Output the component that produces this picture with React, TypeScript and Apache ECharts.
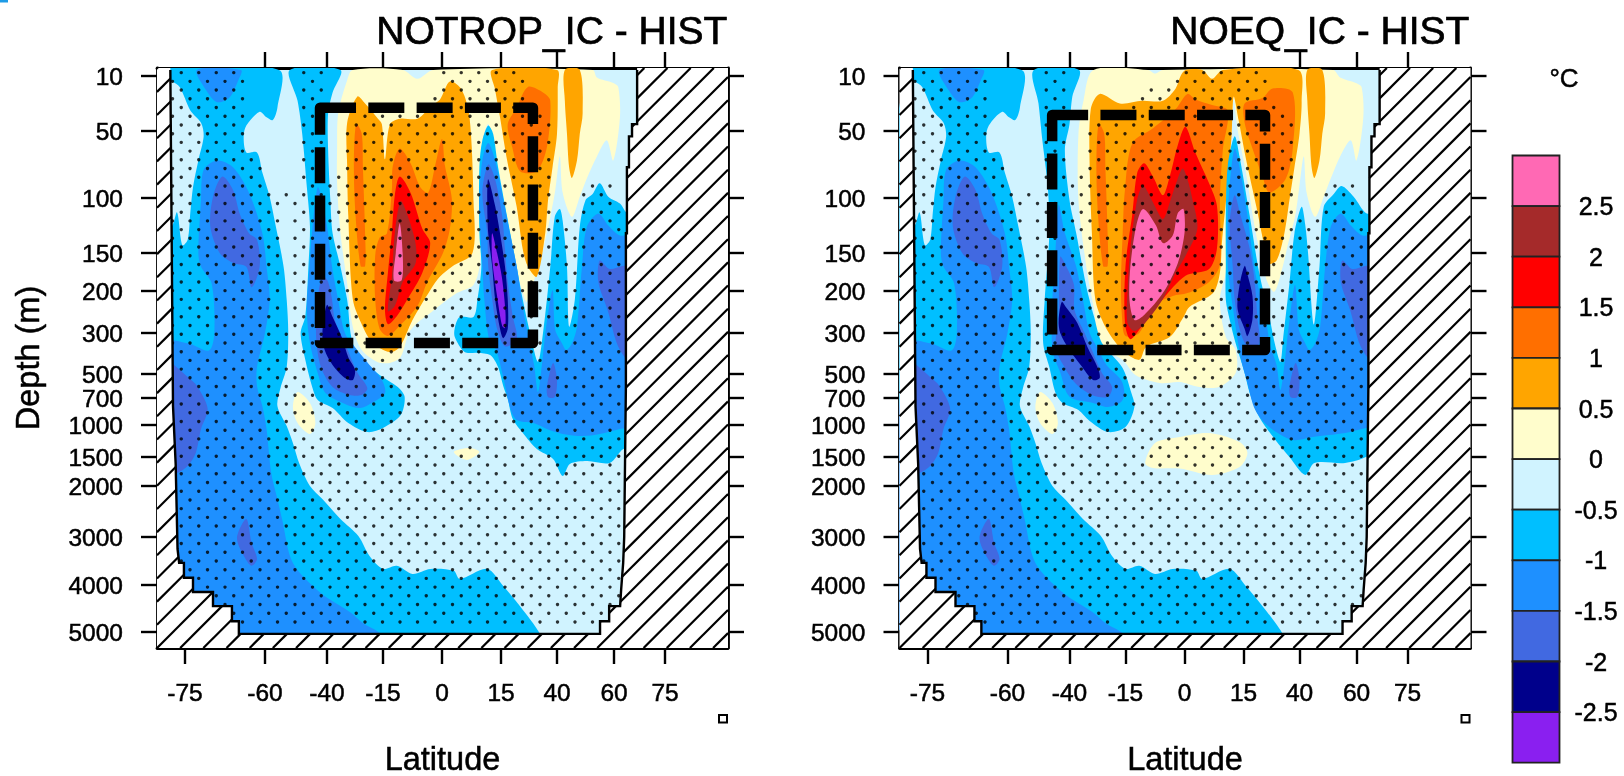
import React, { useEffect, useRef } from "react";
import * as echarts from "echarts";

type P = number[];
const FONT = "'Liberation Sans', Arial, sans-serif";

// Axis ticks and the warped positions the source plot uses
const LAT_TICKS = [-75, -60, -40, -15, 0, 15, 40, 60, 75];
const LAT_SCALE = [[-80.25, 0], [-75, 28], [-60, 108], [-40, 170], [-15, 226], [0, 285], [15, 344], [40, 400], [60, 457], [75, 508], [93.5, 571]];
const DEPTH_TICKS = [10, 50, 100, 150, 200, 300, 500, 700, 1000, 1500, 2000, 3000, 4000, 5000];
const DEPTH_SCALE = [[0, 0], [5, 2], [10, 8], [50, 63], [100, 130], [150, 185], [200, 223], [300, 265], [500, 306], [700, 330], [1000, 357], [1500, 389], [2000, 418], [3000, 469], [4000, 517], [5000, 564], [5340, 580]];

const LEVEL_LABELS = ["2.5", "2", "1.5", "1", "0.5", "0", "-0.5", "-1", "-1.5", "-2", "-2.5"];
const LEVEL_COLORS = ["#FF69B4", "#A52A2A", "#FF0000", "#FF6F00", "#FFA500", "#FFFDCC", "#D0F3FF", "#00BFFF", "#1E90FF", "#4169E1", "#00008B", "#8A1FF0"];
const [PINK, BROWN, RED, DORANGE, ORANGE, LEMON, LCYAN, DSB, DODGER, ROYAL, DARK, PURPLE] = LEVEL_COLORS;

// Ocean outline, lat / depth
const OCEAN: P[] = [[-77.75, 5], [-77.25, 789], [-76.75, 1620], [-76.4, 3250], [-76.1, 3540], [-75.2, 3540], [-75.2, 3850], [-73.5, 3850], [-73.5, 4150], [-69.75, 4150], [-69.75, 4450], [-66.2, 4450], [-66.2, 4770], [-64.9, 4770], [-64.9, 5040], [55.1, 5040], [55.1, 4770], [58.3, 4770], [58.3, 4450], [61.8, 4450], [62.1, 4100], [62.7, 3540], [63, 3000], [63.5, 600], [63.5, 132], [63.8, 132], [63.8, 77], [64.4, 77], [64.4, 54], [65.3, 54], [65.3, 45], [66.8, 45], [66.8, 5]];

// Contours shared by both panels (south and deep north)
const DSB_SOUTH: P[] = [[-79, 5], [-55.5, 5], [-56, 33], [-57.5, 42], [-59.5, 40], [-61, 36], [-63.5, 46], [-64, 54], [-63.5, 66], [-61.5, 66], [-60.5, 81], [-58.5, 99], [-56.5, 126], [-54, 168], [-53, 221], [-52.5, 300], [-53, 466], [-55, 617], [-56, 789], [-53, 1016], [-51, 1281], [-49, 1603], [-45.5, 2000], [-41.5, 2255], [-34, 2647], [-26, 2980], [-21, 3396], [-15, 3665], [-11.5, 3600], [-7.5, 3770], [-3, 3665], [3, 3705], [4.5, 3875], [11.5, 3665], [16, 4020], [23.5, 4450], [32.5, 5040], [32.5, 5200], [-79, 5200]];
const LC_PATCH: P[] = [[-79, 13], [-77.5, 14], [-76, 18], [-74, 35], [-72, 44], [-71.5, 54], [-72.5, 72], [-73.5, 92], [-74, 113], [-74.5, 138], [-75.5, 143], [-76.5, 113], [-77.5, 126], [-79, 126]];
const DODGER_SOUTH: P[] = [[-79, 350], [-74.5, 350], [-70.5, 385], [-69.5, 300], [-70, 190], [-72, 168], [-72.5, 150], [-72, 102], [-71.5, 79], [-69, 72], [-66, 77], [-63, 96], [-60.5, 132], [-59.5, 168], [-58.5, 221], [-60, 300], [-61.5, 466], [-61.5, 600], [-60.5, 789], [-59.5, 1062], [-58, 1770], [-56, 2255], [-54.5, 2647], [-51, 3540], [-42, 4170], [-29, 4600], [-24, 4810], [-16, 5040], [-16, 5200], [-79, 5200]];
const DODGER_TOP: P[] = [[-72.75, 5], [-70.75, 22], [-69, 29], [-66.75, 26], [-65, 13], [-64.5, 5]];
const ROYAL_S1: P[] = [[-68, 84], [-69.75, 99], [-70.25, 126], [-68.5, 150], [-66, 163], [-63.5, 168], [-62.5, 195], [-61, 168], [-61.5, 138], [-63, 132], [-64.75, 114], [-66, 94]];
const ROYAL_S2: P[] = [[-79, 410], [-77.5, 445], [-74.5, 525], [-72.75, 600], [-70.75, 820], [-72, 1062], [-73, 1440], [-74.5, 1655], [-76.5, 1775], [-79, 1775]];
const ROYAL_S3: P[] = [[-63.5, 2647], [-65.25, 3020], [-63.75, 3440], [-62.5, 3600], [-61.5, 3460], [-62.5, 3125]];
const ROYAL_N: P[] = [[55, 160], [54.5, 188], [57.75, 245], [61.75, 383], [68, 483], [68, 167], [62.5, 167], [58.5, 171]];
const ROYAL_N2: P[] = [[38.25, 446], [35.5, 608], [36, 692], [39, 692], [40, 550]];
const LEMON_SOUTH: P[] = [[-49.5, 650], [-51, 800], [-49.5, 978], [-45.5, 1140], [-43.75, 978], [-45.5, 755]];
const ORANGE_COL3: P[] = [[42.75, 5], [48, 5], [49, 37], [48, 52], [47, 72], [45.25, 85], [44.25, 77], [43.5, 52], [42.75, 28]];
const DORANGE_LEFT: P[] = [[-27, 45], [-28, 76], [-27.25, 116], [-25, 167], [-23, 167], [-23, 132], [-24, 76], [-24.5, 52]];

// NOTROP_IC - HIST contours
const A_LEMON: P[] = [[-28.5, 5], [-31, 13], [-35, 37], [-35.5, 64], [-35.5, 89], [-34, 132], [-31, 190], [-28.5, 285], [-24.5, 383], [-17.5, 441], [-13.25, 446], [-10.5, 417], [-8, 293], [-2.25, 247], [3.75, 205], [8, 192], [9.75, 160], [9.75, 102], [10, 64], [11.75, 45], [14, 72], [16.75, 108], [20.25, 155], [24.75, 205], [26.5, 226], [31.5, 168], [33.75, 147], [37, 117], [39.25, 94], [41, 69], [42, 96], [45.25, 117], [48, 99], [50.75, 84], [54, 69], [57.5, 57], [59.75, 72], [61.75, 40], [61.25, 18], [59.75, 15], [54, 11], [52.5, 5], [-2.25, 5], [-6.25, 12], [-10, 5]];
const A_LEMON_TINY: P[] = [[3, 1422], [6.25, 1550], [9.5, 1422], [7, 1360]];
const A_ORANGE: P[] = [[-26.5, 25], [-23, 30], [-17.25, 41], [-15.5, 45], [-14.5, 71], [-13.25, 45], [-10.75, 41], [-6.25, 41], [-2.5, 31], [-0.5, 27], [2, 14], [5, 20], [7, 40], [8, 102], [7.75, 150], [2.5, 168], [-0.5, 181], [-3, 199], [-7.5, 269], [-10.75, 368], [-13.25, 393], [-19.5, 350], [-24, 285], [-28.5, 219], [-30.5, 116], [-31, 76], [-31, 44]];
const A_ORANGE_R: P[] = [[12.75, 5], [40, 5], [40.25, 18], [40, 52], [38, 77], [36, 102], [34.75, 132], [31, 181], [27, 168], [24.75, 147], [22, 108], [17.75, 72], [14.75, 40], [13.5, 20]];
const A_DORANGE: P[] = [[-10.75, 63], [-12.5, 76], [-12.75, 94], [-14, 132], [-16.5, 136], [-18.5, 154], [-18.5, 219], [-16.5, 290], [-13.75, 315], [-10.75, 283], [-6.25, 236], [-3.75, 188], [0.25, 150], [2, 128], [2.5, 101], [0.75, 76], [0, 56], [-1.75, 76], [-3.5, 96], [-5.5, 92], [-8, 74]];
const A_DORANGE_R: P[] = [[27, 18], [22, 33], [18, 45], [20, 62], [23.5, 80], [31, 80], [35.5, 62], [37, 28], [33.75, 22]];
const A_RED: P[] = [[-10.75, 84], [-12, 98], [-12.75, 132], [-13.75, 176], [-14.5, 243], [-13.75, 279], [-11.5, 260], [-8.75, 219], [-5, 176], [-3, 141], [-5, 128], [-8, 96]];
const A_BROWN: P[] = [[-10.5, 103], [-12, 132], [-12.75, 182], [-13.75, 248], [-12, 236], [-10, 188], [-6.75, 164], [-6.75, 141], [-8.75, 116]];
const A_PINK: P[] = [[-10.75, 123], [-11.75, 150], [-12.25, 186], [-10.25, 186], [-10, 150]];
const A_DSB_MID: P[] = [[-52, 5], [-49.5, 28], [-48, 52], [-46.5, 92], [-45.5, 126], [-46, 168], [-47, 260], [-48.5, 300], [-47, 430], [-44.75, 610], [-43, 722], [-37.5, 811], [-30.5, 978], [-22, 1110], [-15, 1047], [-10.5, 890], [-9.5, 690], [-11.25, 608], [-16.5, 508], [-22, 450], [-28.5, 350], [-31, 221], [-34, 168], [-37.5, 132], [-38.5, 102], [-39.5, 64], [-39.5, 37], [-37.5, 22], [-34, 5]];
const A_DODGER_MID: P[] = [[-43, 92], [-44.75, 129], [-45.75, 172], [-46.5, 245], [-45.5, 349], [-43, 495], [-40.5, 658], [-31, 777], [-25.25, 811], [-20, 755], [-14.5, 658], [-15.5, 550], [-21.75, 446], [-26.5, 383], [-32, 300], [-35, 221], [-37.75, 168], [-39.5, 132], [-41.5, 102]];
const A_ROYAL_MID: P[] = [[-41.5, 180], [-43, 221], [-43.5, 320], [-42, 465], [-37.5, 608], [-30, 675], [-24.5, 675], [-22, 617], [-26.5, 492], [-32, 350], [-36.5, 269], [-37.75, 221], [-39.5, 188]];
const A_DARK_MID: P[] = [[-40, 233], [-41.5, 300], [-40.75, 383], [-37.5, 456], [-32, 533], [-28.5, 550], [-27.5, 480], [-30.5, 418], [-33.25, 325], [-37.5, 262]];
const A_DSB_NORTH: P[] = [[42, 1827], [38.25, 1534], [31, 1375], [24.75, 1125], [20.25, 933], [18, 711], [16, 600], [14.25, 466], [12.25, 407], [9, 397], [5.75, 393], [3.25, 320], [3.25, 288], [4.5, 262], [8, 262], [9, 221], [10, 168], [9.5, 132], [9.5, 77], [10.25, 57], [11.75, 46], [13, 52], [14.25, 77], [17.75, 117], [22, 168], [24.75, 221], [28, 300], [31.5, 440], [33.75, 300], [37, 168], [39, 117], [41, 110], [42, 121], [43.5, 168], [44.25, 285], [46.25, 221], [48, 126], [50, 102], [52.5, 97], [55, 89], [58, 99], [61.75, 105], [64, 114], [68, 114], [68, 1312], [62.75, 1375], [58.5, 1603], [50.5, 1569], [44.5, 1620]];
const A_DODGER_NORTH: P[] = [[61.75, 1062], [55, 1140], [49, 1172], [42, 1140], [35.5, 1062], [29.5, 978], [22, 944], [19, 800], [16, 525], [13.75, 383], [12, 334], [10.75, 219], [10.25, 166], [9.75, 132], [9.5, 100], [10.25, 72], [11.75, 59], [13.5, 72], [16, 101], [19, 132], [22, 167], [24.25, 219], [26.5, 290], [29.75, 456], [31.5, 650], [33.25, 456], [35, 293], [38, 199], [39.25, 293], [41.75, 350], [43.25, 383], [45.25, 350], [47, 285], [48.75, 168], [50.5, 126], [54.5, 114], [58, 125], [61.75, 134], [68, 134], [68, 1000]];
const A_ROYAL_T: P[] = [[11.75, 75], [10.25, 96], [11.5, 132], [11.75, 167], [12.75, 219], [14, 290], [16.75, 365], [22, 330], [20.25, 260], [18, 188], [16.75, 146], [15.5, 116], [13.5, 86]];
const A_DARK_T: P[] = [[11.75, 86], [11.5, 101], [11.75, 132], [12.75, 167], [13.5, 219], [14.75, 290], [16, 325], [18, 290], [18, 219], [16.75, 167], [14.75, 132], [13.5, 107]];
const A_PURPLE_T: P[] = [[12.75, 132], [12.75, 158], [14, 212], [15.5, 283], [16.75, 288], [17, 252], [15.5, 184], [14, 150]];

// NOEQ_IC - HIST contours
const B_LEMON: P[] = [[-29.25, 5], [-33.75, 28], [-36, 52], [-36, 102], [-32.5, 168], [-29.25, 238], [-25.75, 368], [-16.25, 431], [-12.5, 508], [-6.25, 575], [-1.25, 567], [3.75, 608], [8.75, 608], [13, 495], [13, 383], [10.5, 320], [9, 221], [10.75, 168], [11.25, 80], [12, 49], [12.5, 27], [13.5, 49], [16, 80], [20.25, 129], [25.25, 185], [28.75, 202], [32.5, 168], [34.75, 143], [38, 117], [39.75, 94], [41.5, 69], [42.5, 96], [45.5, 117], [48.5, 99], [51.25, 84], [54.25, 69], [58, 57], [60, 72], [62, 40], [61.5, 18], [59.75, 15], [54.25, 11], [51.75, 5], [-5.5, 5], [-7.5, 8], [-9.25, 5]];
const B_LEMON_BLOB: P[] = [[-10, 1603], [-7.5, 1281], [-1.25, 1187], [6.25, 1125], [14, 1265], [16.75, 1437], [14, 1672], [7, 1810], [-1.25, 1700], [-8, 1690]];
const B_ORANGE: P[] = [[-26.5, 23], [-17.5, 30], [-10.75, 28], [-5.5, 28], [-2.25, 19], [-1, 10], [0.25, 5], [4.5, 5], [7, 12], [9.75, 5], [39.5, 5], [40.75, 28], [40, 52], [37.75, 77], [35.5, 102], [33.25, 132], [29.75, 160], [26, 164], [24, 141], [20.75, 108], [16.25, 72], [13.75, 42], [12.5, 25], [12, 52], [10.75, 96], [9.5, 141], [9, 176], [7.25, 205], [1.25, 238], [-0.25, 262], [-3.75, 320], [-9.75, 368], [-11.5, 431], [-16.5, 383], [-24, 285], [-28.5, 219], [-30, 132], [-31, 76], [-30.5, 34]];
const B_DORANGE: P[] = [[0.75, 23], [-2.25, 34], [-8, 48], [-13.25, 59], [-15.25, 94], [-16.25, 132], [-17, 188], [-16.5, 267], [-15, 315], [-11.5, 300], [-8, 236], [-3, 212], [0.75, 205], [6.25, 188], [9, 165], [9, 102], [9.75, 64], [11, 35], [7, 31], [2.75, 27]];
const B_DORANGE_R: P[] = [[28, 19], [37, 22], [37, 63], [33.75, 86], [26.5, 96], [23.5, 84], [19, 63], [15.5, 44], [15.5, 30], [23.5, 26]];
const B_RED: P[] = [[0.25, 47], [-1.75, 61], [-3.75, 84], [-5.5, 98], [-8, 84], [-10.25, 74], [-12, 81], [-13.25, 114], [-15, 167], [-15.25, 276], [-13.75, 330], [-10.75, 283], [-5.5, 219], [0.25, 180], [6.25, 171], [8.25, 146], [8.25, 107], [6.25, 89], [2.75, 66]];
const B_BROWN: P[] = [[-0.5, 78], [-2.25, 90], [-3.75, 104], [-5.5, 119], [-8, 104], [-10.5, 91], [-12, 101], [-13.75, 146], [-14.5, 205], [-14.5, 276], [-12.75, 295], [-10, 276], [-5.5, 219], [-2.25, 176], [0.25, 154], [3.25, 128], [2, 101], [0.75, 86]];
const B_PINK: P[] = [[-10.5, 110], [-12.25, 125], [-13.75, 167], [-14, 221], [-12.75, 269], [-10.25, 257], [-5.5, 205], [-1.75, 164], [0, 132], [-0.25, 110], [-1.75, 114], [-3, 134], [-5.5, 141], [-7.25, 125]];
const B_DSB_MID: P[] = [[-51.5, 5], [-50, 30], [-48.75, 57], [-47, 92], [-46.5, 132], [-48, 221], [-48.5, 349], [-46.5, 467], [-44.5, 658], [-42.25, 755], [-36, 833], [-31, 955], [-22.75, 1110], [-15, 1031], [-12.75, 800], [-13.5, 658], [-16.5, 467], [-25.5, 349], [-29, 262], [-32.5, 194], [-37, 132], [-40, 102], [-41.5, 64], [-40, 45], [-38.75, 25], [-35.75, 5]];
const B_DODGER_MID: P[] = [[-43.5, 106], [-44.5, 148], [-45.5, 221], [-45.5, 383], [-43, 492], [-40, 690], [-29.5, 755], [-23, 800], [-17, 745], [-15.5, 658], [-17, 550], [-23.5, 456], [-27, 383], [-31, 300], [-34, 221], [-37, 168], [-41.5, 132]];
const B_ROYAL_MID: P[] = [[-43, 155], [-43.5, 262], [-44.5, 368], [-42.25, 450], [-37.5, 575], [-30, 675], [-23, 692], [-21, 608], [-25.5, 495], [-30, 383], [-33.25, 300], [-37.75, 245], [-38, 192], [-41, 168]];
const B_DARK_MID: P[] = [[-42.5, 226], [-43.5, 269], [-43, 300], [-40, 383], [-35, 456], [-29.5, 550], [-26.5, 533], [-27.5, 467], [-32, 368], [-36.5, 276], [-41, 240]];
const B_DSB_NORTH: P[] = [[42, 1810], [35.5, 1500], [29.25, 1234], [22, 911], [17.75, 658], [15.5, 495], [13, 350], [11.5, 269], [10.5, 221], [10.5, 167], [10.5, 116], [11, 76], [12.75, 54], [14, 69], [17.75, 116], [22, 176], [26.5, 260], [29.25, 365], [31.5, 441], [32.75, 320], [35.5, 190], [37.75, 132], [40.75, 108], [42, 124], [43, 150], [45, 280], [47, 168], [48.5, 108], [52, 97], [54.75, 91], [59, 99], [63, 114], [68, 114], [68, 1312], [62.75, 1500], [56, 1603], [45.25, 1603]];
const B_DODGER_NORTH: P[] = [[62.75, 1047], [56, 1125], [44.5, 1187], [37, 1234], [26.5, 1031], [20.25, 833], [16.75, 575], [14.25, 417], [12.25, 236], [11, 167], [11, 116], [11.5, 90], [12.75, 63], [14.25, 81], [16.75, 116], [20.25, 176], [24.75, 260], [27, 365], [29.75, 456], [31.5, 633], [33.25, 456], [35, 293], [38, 192], [39.75, 293], [42, 350], [43.5, 383], [45.5, 350], [47.25, 285], [49, 168], [51, 126], [54.5, 114], [58, 125], [61.75, 134], [68, 134], [68, 1000]];
const B_ROYAL_T: P[] = [[12.75, 98], [11.5, 123], [12.25, 167], [12.75, 219], [14, 290], [16.75, 365], [22, 350], [21.25, 267], [20, 188], [17.75, 146], [14.25, 116]];
const B_DARK_T: P[] = [[15.5, 167], [14, 192], [13.5, 243], [15.5, 290], [16.75, 315], [19, 267], [19, 212], [16.75, 178]];

// Regions with no stippling
const NODOT_SOUTH: P[] = [[-62.75, 5], [-63.5, 42], [-63.5, 63], [-61.25, 67], [-60, 86], [-57.5, 95], [-52, 98], [-49.5, 95], [-49.5, 5]];
const NODOT_TONGUE: P[] = [[-54.5, 98], [-53, 300], [-53, 700], [-50.5, 700], [-50.5, 98]];
const NODOT_NORTH: P[] = [[27, 5], [27, 24], [38, 46], [38, 105], [42.75, 114], [46.25, 119], [47.25, 97], [51.5, 88], [59.25, 88], [62.25, 102], [69, 102], [69, 5]];
const A_NODOT: P[] = [[-40.75, 5], [-40.75, 82], [-33, 82], [-33, 53], [-30, 36], [-10.75, 36], [-2.5, 27], [-0.5, 5]];
const B_NODOT: P[] = [[-40.75, 5], [-40.75, 82], [-34, 82], [-34, 53], [-29, 44], [-13.25, 36], [-12, 22], [-9.5, 14], [-3, 14], [-1, 5]];

// Dashed boxes: [west, east, top, bottom]
const A_BOX = [-42.25, 29.25, 33, 349];
const B_BOX = [-45.6, 24.6, 38.4, 383];

const interp = (t: number[][], v: number) => {
  for (let i = 0; i < t.length - 1; i++) {
    if (v <= t[i + 1][0] || i === t.length - 2) {
      return t[i][1] + ((v - t[i][0]) * (t[i + 1][1] - t[i][1])) / (t[i + 1][0] - t[i][0]);
    }
  }
  return 0;
};
const toAxis = (p: P) => [interp(LAT_SCALE, p[0]), interp(DEPTH_SCALE, p[1])];
const W = 571;
const H = 580;

const inside = (pt: number[], poly: number[][]) => {
  let c = false;
  for (let i = 0, j = poly.length - 1; i < poly.length; j = i++) {
    const [xi, yi] = poly[i];
    const [xj, yj] = poly[j];
    if (yi > pt[1] !== yj > pt[1] && pt[0] < ((xj - xi) * (pt[1] - yi)) / (yj - yi) + xi) c = !c;
  }
  return c;
};

const OCEAN_AX = OCEAN.map(toAxis);
const OCEAN_CLOSED = OCEAN_AX.concat([[OCEAN_AX[OCEAN_AX.length - 1][0], 0], [OCEAN_AX[0][0], 0]]);

// Hatch segments where the line lies outside the ocean
function hatchSegments() {
  const out: number[][][] = [];
  const s = 23.17;
  for (let k = -25; k <= 25; k++) {
    const C = H + k * s;
    const u0 = Math.max(0, C - H);
    const u1 = Math.min(W, C);
    if (u1 <= u0) continue;
    const cuts: number[] = [];
    for (let i = 0; i < OCEAN_CLOSED.length; i++) {
      const a = OCEAN_CLOSED[i];
      const b = OCEAN_CLOSED[(i + 1) % OCEAN_CLOSED.length];
      const fa = a[0] + a[1] - C;
      const fb = b[0] + b[1] - C;
      if (fa === fb || fa * fb > 0) continue;
      const t = fa / (fa - fb);
      cuts.push(a[0] + t * (b[0] - a[0]));
    }
    cuts.sort((a, b) => a - b);
    let start = u0;
    for (let i = 0; i + 1 < cuts.length; i += 2) {
      if (cuts[i] > start) out.push([[start, C - start], [cuts[i], C - cuts[i]]]);
      start = cuts[i + 1];
    }
    if (u1 > start) out.push([[start, C - start], [u1, C - u1]]);
  }
  return out;
}

function stipple(masks: P[][], uOffset: number) {
  const axMasks = masks.map((m) => m.map(toAxis));
  const pts: number[][] = [];
  for (let n = 0; n <= 63; n++) {
    const v = 554 - 8.72 * n;
    const start = n % 2 === 0 ? uOffset : uOffset - 8.75;
    for (let u = start; u < W; u += 17.5) {
      const p = [u, v];
      if (!inside(p, OCEAN_CLOSED)) continue;
      if (axMasks.some((m) => inside(p, m))) continue;
      pts.push(p);
    }
  }
  return pts;
}

function panelSeries(idx: number, layers: [string, P[]][], box: number[], masks: P[][], uOffset: number) {
  const axis = { xAxisIndex: idx * 2, yAxisIndex: idx * 2 };
  const colors = {
    type: "custom",
    ...axis,
    silent: true,
    clip: true,
    z: 2,
    data: [[0, 0]],
    renderItem: (_: any, api: any) => ({
      type: "group",
      children: [
        { type: "polygon", shape: { points: OCEAN.map((p) => api.coord(toAxis(p))) }, style: { fill: LCYAN } },
        ...layers.map(([fill, pts]) => ({
          type: "polygon",
          shape: { points: pts.map((p) => api.coord(toAxis(p))), smooth: 0.3 },
          style: { fill },
        })),
      ],
    }),
  };
  const dots = {
    type: "scatter",
    ...axis,
    silent: true,
    z: 3,
    symbolSize: 3.4,
    itemStyle: { color: "#000" },
    data: stipple(masks, uOffset),
  };
  const land = {
    type: "custom",
    ...axis,
    silent: true,
    clip: true,
    z: 4,
    data: [[0, 0]],
    renderItem: (_: any, api: any) => {
      const ocean = OCEAN_AX.map((p) => api.coord(p));
      const first = OCEAN_AX[0];
      const last = OCEAN_AX[OCEAN_AX.length - 1];
      const mask = [[first[0], 0], ...OCEAN_AX, [last[0], 0], [W, 0], [W, H], [0, H], [0, 0]].map((p) => api.coord(p));
      return {
        type: "group",
        children: [
          { type: "polygon", shape: { points: mask }, style: { fill: "#fff" } },
          ...hatchSegments().map((seg) => {
            const a = api.coord(seg[0]);
            const b = api.coord(seg[1]);
            return { type: "line", shape: { x1: a[0], y1: a[1], x2: b[0], y2: b[1] }, style: { stroke: "#000", lineWidth: 2.2 } };
          }),
          { type: "polyline", shape: { points: ocean }, style: { fill: "none", stroke: "#000", lineWidth: 2.4 } },
        ],
      };
    },
  };
  const boxSeries = {
    type: "custom",
    ...axis,
    silent: true,
    clip: false,
    z: 5,
    data: [[0, 0]],
    renderItem: (_: any, api: any) => ({
      type: "polygon",
      shape: {
        points: [[box[0], box[2]], [box[1], box[2]], [box[1], box[3]], [box[0], box[3]]].map((p) => api.coord(toAxis(p))),
      },
      style: { fill: "none", stroke: "#000", lineWidth: 10.5, lineDash: [36, 12.3], lineJoin: "round" },
    }),
  };
  return [colors, dots, land, boxSeries];
}

const latPos = LAT_TICKS.map((v) => interp(LAT_SCALE, v));
const depthPos = DEPTH_TICKS.map((v) => interp(DEPTH_SCALE, v));
const tickStyle = { show: true, length: 16, lineStyle: { color: "#000", width: 2.4 } };
const lineStyle = { show: true, onZero: false, lineStyle: { color: "#000", width: 2.8 } };
const heavy = { textBorderColor: "#000", textBorderWidth: 0.5 };
const labelStyle = { color: "#000", fontFamily: FONT, fontSize: 24.5, ...heavy };
const nameStyle = { color: "#000", fontFamily: FONT, fontSize: 32.5, ...heavy };

const xAxes = (gridIndex: number) => [
  {
    type: "value", gridIndex, min: 0, max: W, position: "bottom", splitLine: { show: false }, axisLine: lineStyle,
    axisTick: { ...tickStyle, customValues: latPos },
    axisLabel: {
      ...labelStyle, margin: 32, customValues: latPos,
      formatter: (v: number) => String(LAT_TICKS[latPos.findIndex((p) => Math.abs(p - v) < 0.01)]),
    },
    name: "Latitude", nameLocation: "middle", nameGap: 94,
    nameTextStyle: nameStyle,
  },
  {
    type: "value", gridIndex, min: 0, max: W, position: "top", splitLine: { show: false }, axisLine: lineStyle,
    axisTick: { ...tickStyle, customValues: latPos.slice(1) }, axisLabel: { show: false },
  },
];
const yAxes = (gridIndex: number, named: boolean) => [
  {
    type: "value", gridIndex, min: 0, max: H, inverse: true, position: "left", splitLine: { show: false }, axisLine: lineStyle,
    axisTick: { ...tickStyle, customValues: depthPos },
    axisLabel: {
      ...labelStyle, margin: 34, customValues: depthPos,
      formatter: (v: number) => String(DEPTH_TICKS[depthPos.findIndex((p) => Math.abs(p - v) < 0.01)]),
    },
    ...(named ? { name: "Depth (m)", nameLocation: "middle", nameGap: 113, nameTextStyle: nameStyle } : {}),
  },
  {
    type: "value", gridIndex, min: 0, max: H, inverse: true, position: "right", splitLine: { show: false }, axisLine: lineStyle,
    axisTick: { ...tickStyle, customValues: depthPos }, axisLabel: { show: false },
  },
];

const SHARED_WARM_A: [string, P[]][] = [
  [LEMON, A_LEMON], [LEMON, LEMON_SOUTH], [LEMON, A_LEMON_TINY],
  [ORANGE, A_ORANGE], [ORANGE, A_ORANGE_R], [ORANGE, ORANGE_COL3],
  [DORANGE, DORANGE_LEFT], [DORANGE, A_DORANGE], [DORANGE, A_DORANGE_R],
  [RED, A_RED], [BROWN, A_BROWN], [PINK, A_PINK],
];
const SHARED_WARM_B: [string, P[]][] = [
  [LEMON, B_LEMON], [LEMON, LEMON_SOUTH], [LEMON, B_LEMON_BLOB],
  [ORANGE, B_ORANGE], [ORANGE, ORANGE_COL3],
  [DORANGE, DORANGE_LEFT], [DORANGE, B_DORANGE], [DORANGE, B_DORANGE_R],
  [RED, B_RED], [BROWN, B_BROWN], [PINK, B_PINK],
];
const coldLayers = (dsbMid: P[], dsbN: P[], dodMid: P[], dodN: P[], royals: P[][], darks: P[][]): [string, P[]][] => [
  [DSB, DSB_SOUTH], [LCYAN, LC_PATCH], [DSB, dsbMid], [DSB, dsbN],
  [DODGER, DODGER_SOUTH], [DODGER, DODGER_TOP], [DODGER, dodMid], [DODGER, dodN],
  [ROYAL, ROYAL_S1], [ROYAL, ROYAL_S2], [ROYAL, ROYAL_S3], [ROYAL, ROYAL_N], [ROYAL, ROYAL_N2],
  ...royals.map((r): [string, P[]] => [ROYAL, r]),
  ...darks.map((r): [string, P[]] => [DARK, r]),
];

export default function App() {
  const ref = useRef<HTMLDivElement>(null);
  useEffect(() => {
    if (!ref.current) return;
    const chart = echarts.init(ref.current, null, { renderer: "svg" });
    const barTop = 155.5;
    const barStep = 50.6;
    const aLayers: [string, P[]][] = [
      ...SHARED_WARM_A,
      ...coldLayers(A_DSB_MID, A_DSB_NORTH, A_DODGER_MID, A_DODGER_NORTH, [A_ROYAL_MID, A_ROYAL_T], [A_DARK_MID, A_DARK_T]),
      [PURPLE, A_PURPLE_T],
    ];
    const bLayers: [string, P[]][] = [
      ...SHARED_WARM_B,
      ...coldLayers(B_DSB_MID, B_DSB_NORTH, B_DODGER_MID, B_DODGER_NORTH, [B_ROYAL_MID, B_ROYAL_T], [B_DARK_MID, B_DARK_T]),
    ];
    const titleStyle = { color: "#000", fontFamily: FONT, fontSize: 39, fontWeight: "normal", textBorderColor: "#000", textBorderWidth: 0.7 };
    chart.setOption({
      animation: false,
      backgroundColor: "#fff",
      title: [
        { text: "NOTROP_IC - HIST", right: 896, top: 11, padding: 0, textStyle: titleStyle },
        { text: "NOEQ_IC - HIST", right: 154, top: 11, padding: 0, textStyle: titleStyle },
      ],
      grid: [
        { left: 157, top: 68, width: W, height: H, outerBoundsMode: "none" },
        { left: 899.5, top: 68, width: W, height: H, outerBoundsMode: "none" },
      ],
      xAxis: [...xAxes(0), ...xAxes(1)],
      yAxis: [...yAxes(0, true), ...yAxes(1, false)],
      series: [
        ...panelSeries(0, aLayers, A_BOX, [NODOT_SOUTH, NODOT_TONGUE, NODOT_NORTH, A_NODOT], 15.5),
        ...panelSeries(1, bLayers, B_BOX, [NODOT_SOUTH, NODOT_TONGUE, NODOT_NORTH, B_NODOT], 15.5),
      ],
      graphic: [
        { type: "rect", shape: { x: 0, y: 0, width: 8, height: 2.5 }, style: { fill: "#1E9BE6" } },
        { type: "rect", shape: { x: 719, y: 715, width: 8, height: 7.5 }, style: { fill: "#fff", stroke: "#000", lineWidth: 2 } },
        { type: "rect", shape: { x: 1461.5, y: 715, width: 8, height: 7.5 }, style: { fill: "#fff", stroke: "#000", lineWidth: 2 } },
        { type: "text", x: 1564, y: 78, style: { text: "°C", fill: "#000", stroke: "#000", lineWidth: 0.5, font: `26px ${FONT}`, textAlign: "center", textVerticalAlign: "middle" } },
        ...LEVEL_COLORS.map((fill, i) => ({
          type: "rect",
          shape: { x: 1512.5, y: barTop + i * barStep, width: 47, height: barStep },
          style: { fill, stroke: "#222", lineWidth: 1.8 },
        })),
        ...LEVEL_LABELS.map((text, i) => ({
          type: "text",
          x: 1596,
          y: barTop + (i + 1) * barStep,
          style: { text, fill: "#000", stroke: "#000", lineWidth: 0.5, font: `25px ${FONT}`, textAlign: "center", textVerticalAlign: "middle" },
        })),
      ],
    });
    return () => chart.dispose();
  }, []);
  return <div ref={ref} style={{ position: "fixed", left: 0, top: 0, width: 1624, height: 776, background: "#fff", filter: "blur(0.6px)" }} />;
}
